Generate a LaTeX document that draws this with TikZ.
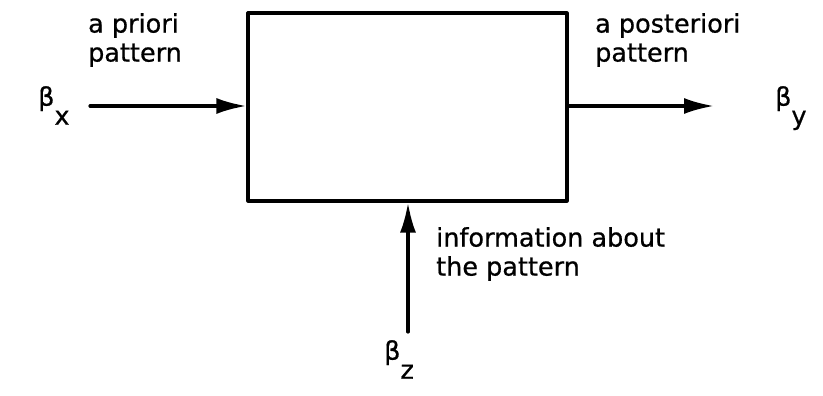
\documentclass[tikz,border=0pt]{standalone}
\usepackage{fontspec}
\setmainfont{DejaVu Sans}
\usetikzlibrary{arrows.meta}
\newcommand{\heavytext}{\addfontfeatures{FakeBold=0.7}}
\newcommand{\lowsub}[1]{\raisebox{-19pt}{#1}}
\tikzset{
  wire/.style={line width=3.2pt, line cap=round, line join=round},
  flow/.style={wire, -{Latex[length=30pt,width=16pt]}},
  lbl/.style={inner sep=0pt, anchor=north west, align=left,
              font=\fontsize{25.5}{29}\selectfont\heavytext},
  sym/.style={inner sep=0pt, anchor=north west,
              font=\fontsize{25.5}{29}\selectfont\heavytext}
}
\begin{document}
\begin{tikzpicture}[x=1pt,y=-1pt]
  \useasboundingbox (0,0) rectangle (823,396);
  % the system block
  \node[wire, draw, minimum width=319pt, minimum height=188pt, inner sep=0pt]
       (sys) at (407.5,107) {};
  % free ends of the three signal lines
  \coordinate (src)  at (90,106);
  \coordinate (dst)  at (714,106);
  \coordinate (info) at (408,332);
  \draw[flow] (src) -- (sys.west |- src);
  \draw[flow] (sys.east |- dst) -- (dst);
  \draw[flow] (info) -- (sys.south -| info);
  % texts
  \node[lbl] (tin)   at (88,13)  {a priori\\pattern};
  \node[lbl] (tout)  at (595,13) {a posteriori\\pattern};
  \node[lbl] (tinfo) at (436,227) {information about\\the pattern};
  \node[sym] (bx) at (38,86)  {β\lowsub{x}};
  \node[sym] (by) at (775,86) {β\lowsub{y}};
  \node[sym] (bz) at (384,340) {β\lowsub{z}};
\end{tikzpicture}
\end{document}
